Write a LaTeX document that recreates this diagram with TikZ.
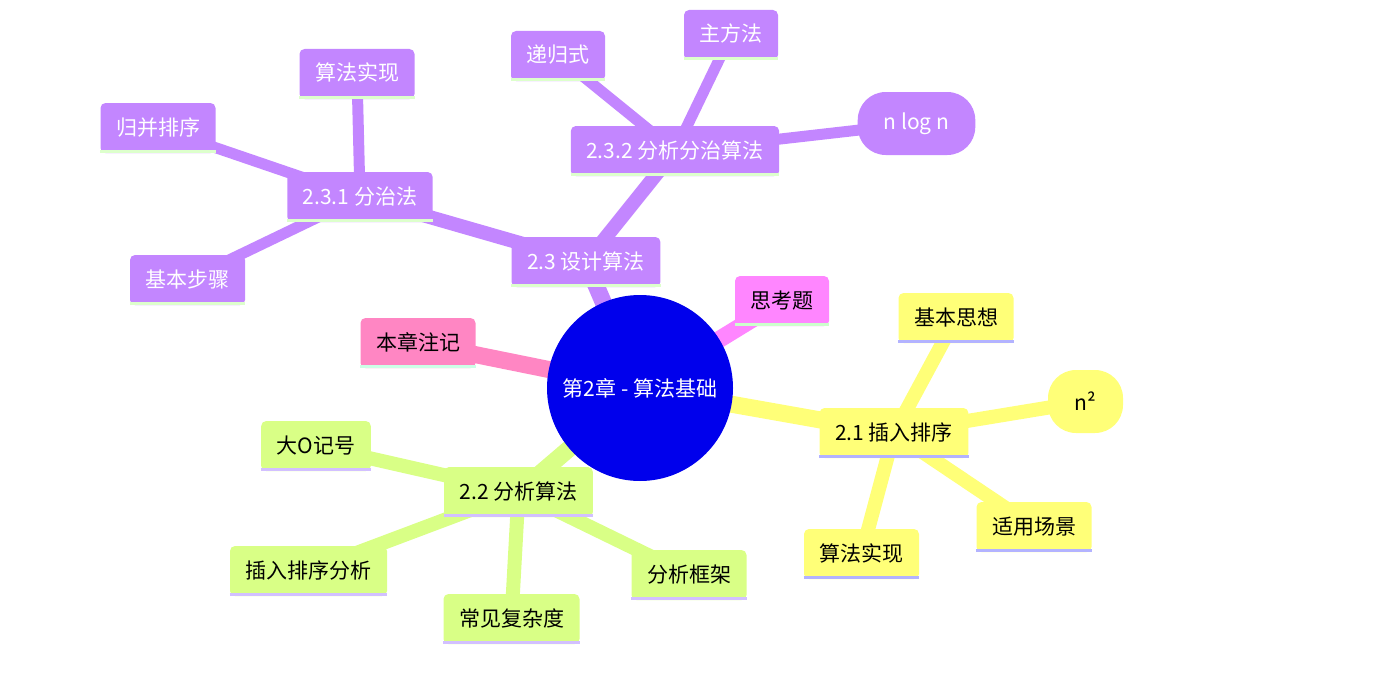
\documentclass[tikz,border=0pt]{standalone}
\usepackage{fontspec}
\newfontfamily\cjk{Noto Sans CJK SC}
\usetikzlibrary{backgrounds}
\definecolor{rootblue}{HTML}{0000EC}
\definecolor{secyellow}{HTML}{FFFF78}
\definecolor{secgreen}{HTML}{D9FF86}
\definecolor{secpurple}{HTML}{C386FF}
\definecolor{secmagenta}{HTML}{FF86FF}
\definecolor{secpink}{HTML}{FF86C3}
\definecolor{lineyellow}{HTML}{B3B3FF}
\definecolor{linegreen}{HTML}{D2C0FF}
\definecolor{linepurple}{HTML}{DDFFCC}
\definecolor{linemagenta}{HTML}{CCFFCC}
\definecolor{linepink}{HTML}{CCFFE6}
\begin{document}
\begin{tikzpicture}[x=1pt,y=-1pt,
    txt/.style={font=\cjk\fontsize{21}{25}\selectfont},
    box/.style={txt,fill=#1,rounded corners=5pt,inner xsep=15.5pt,
      minimum height=50pt,text height=17pt,text depth=3pt},
    pill/.style={txt,fill=#1,rounded corners=28pt,inner xsep=26pt,
      minimum height=63pt,minimum width=75pt},
    edgeA/.style={draw=#1,line width=17pt},
    edgeB/.style={draw=#1,line width=14pt},
    edgeC/.style={draw=#1,line width=11pt},
    stripe/.style={draw=#1,line width=3pt}]
    \useasboundingbox (0,0) rectangle (1384,693);

    \node[txt,circle,fill=rootblue,text=white,minimum size=186pt] (root) at (640,388) {第2章 - 算法基础};

    % 2.3
    \node[box=secpurple,text=white] (design) at (586,262) {2.3 设计算法};
    \node[box=secpurple,text=white] (divide) at (360,197) {2.3.1 分治法};
    \node[box=secpurple,text=white] (merge) at (158,128) {归并排序};
    \node[box=secpurple,text=white] (dimpl) at (357,74) {算法实现};
    \node[box=secpurple,text=white] (steps) at (187.5,280) {基本步骤};
    \node[box=secpurple,text=white] (dcana) at (675,151) {2.3.2 分析分治算法};
    \node[box=secpurple,text=white] (recur) at (558,56) {递归式};
    \node[box=secpurple,text=white] (master) at (731,35) {主方法};
    \node[pill=secpurple,text=white] (nlogn) at (916.5,123.5) {n log n};

    \node[box=secmagenta] (think) at (782,301) {思考题};
    \node[box=secpink] (notes) at (418,343) {本章注记};

    % 2.1
    \node[box=secyellow] (insert) at (894,433) {2.1 插入排序};
    \node[box=secyellow] (idea) at (956,318) {基本思想};
    \node[pill=secyellow] (nsq) at (1085.5,401.5) {n²};
    \node[box=secyellow] (scene) at (1034,527) {适用场景};
    \node[box=secyellow] (iimpl) at (861.5,554) {算法实现};

    % 2.2
    \node[box=secgreen] (analysis) at (518.5,492) {2.2 分析算法};
    \node[box=secgreen] (bigo) at (316,446) {大O记号};
    \node[box=secgreen] (isana) at (308.5,571) {插入排序分析};
    \node[box=secgreen] (common) at (511.5,619) {常见复杂度};
    \node[box=secgreen] (frame) at (689,575) {分析框架};

    \foreach \n in {design,divide,merge,dimpl,steps,dcana,recur,master}
      \draw[stripe=linepurple] ([yshift=1.5pt]\n.south west) -- ([yshift=1.5pt]\n.south east);
    \foreach \n in {insert,idea,scene,iimpl}
      \draw[stripe=lineyellow] ([yshift=1.5pt]\n.south west) -- ([yshift=1.5pt]\n.south east);
    \foreach \n in {analysis,bigo,isana,common,frame}
      \draw[stripe=linegreen] ([yshift=1.5pt]\n.south west) -- ([yshift=1.5pt]\n.south east);
    \draw[stripe=linemagenta] ([yshift=1.5pt]think.south west) -- ([yshift=1.5pt]think.south east);
    \draw[stripe=linepink] ([yshift=1.5pt]notes.south west) -- ([yshift=1.5pt]notes.south east);

    \begin{scope}[on background layer]
      \draw[edgeA=secpurple] (root.center) -- (design.center);
      \draw[edgeA=secmagenta] (root.center) -- (think.center);
      \draw[edgeA=secpink] (root.center) -- (notes.center);
      \draw[edgeA=secyellow] (root.center) -- (insert.center);
      \draw[edgeA=secgreen] (root.center) -- (analysis.center);
      \foreach \n in {divide,dcana}
        \draw[edgeB=secpurple] (design.center) -- (\n.center);
      \foreach \n in {merge,dimpl,steps}
        \draw[edgeC=secpurple] (divide.center) -- (\n.center);
      \foreach \n in {recur,master,nlogn}
        \draw[edgeC=secpurple] (dcana.center) -- (\n.center);
      \foreach \n in {idea,nsq,scene,iimpl}
        \draw[edgeB=secyellow] (insert.center) -- (\n.center);
      \foreach \n in {bigo,isana,common,frame}
        \draw[edgeB=secgreen] (analysis.center) -- (\n.center);
    \end{scope}
  \end{tikzpicture}
\end{document}
